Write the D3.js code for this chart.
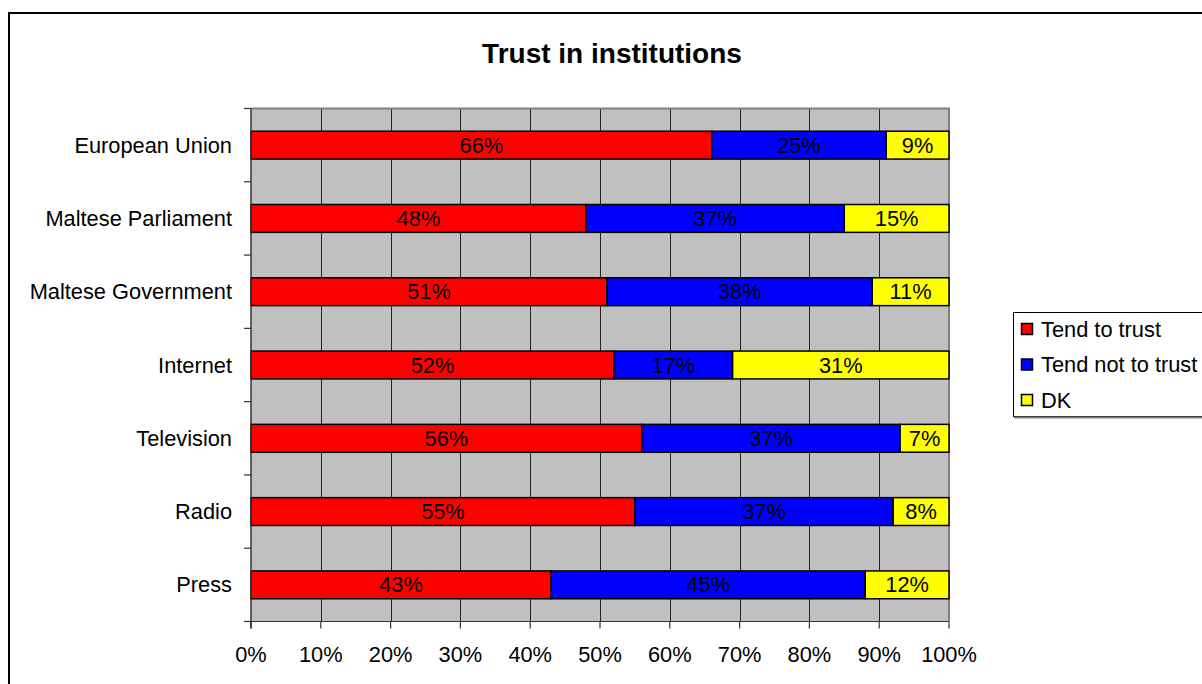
<!DOCTYPE html>
<html>
<head>
<meta charset="utf-8">
<script src="https://cdn.jsdelivr.net/npm/d3@7"></script>
<style>
  html, body { margin: 0; padding: 0; background: #fff; }
  svg { display: block; font-family: "Liberation Sans", Arial, sans-serif; }
</style>
</head>
<body>
<svg id="chart" width="1202" height="684"></svg>
<script>
const categories = ["European Union", "Maltese Parliament", "Maltese Government", "Internet", "Television", "Radio", "Press"];
const seriesNames = ["Tend to trust", "Tend not to trust", "DK"];
const tendToTrust = [66, 48, 51, 52, 56, 55, 43];
const tendNotToTrust = [25, 37, 38, 17, 37, 37, 45];
const dk = [9, 15, 11, 31, 7, 8, 12];
const xTicks = [0, 10, 20, 30, 40, 50, 60, 70, 80, 90, 100];
const colors = ["#FF0000", "#0000FF", "#FFFF00"];

const rows = categories.map((c, i) => ({
  cat: c, "Tend to trust": tendToTrust[i], "Tend not to trust": tendNotToTrust[i], "DK": dk[i]
}));
const stacked = d3.stack().keys(seriesNames)(rows);

const svg = d3.select("#chart");
const W = 1202, H = 684;
const plot = { left: 251, right: 949, top: 108.5, bottom: 621.5 };
const FS = 21.8;

// outer frame
svg.append("rect").attr("x", 9).attr("y", 13).attr("width", W + 20).attr("height", H + 20)
  .attr("fill", "#fff").attr("stroke", "#000").attr("stroke-width", 2);

// title
svg.append("text").attr("x", 612).attr("y", 63).attr("text-anchor", "middle")
  .attr("font-size", 28).attr("font-weight", "bold").attr("fill", "#000")
  .text("Trust in institutions");

const x = d3.scaleLinear().domain([0, 100]).range([plot.left, plot.right]);
const y = d3.scaleBand().domain(categories).range([plot.top, plot.bottom])
  .paddingInner(0.62).paddingOuter(0.31);

// plot background
svg.append("rect").attr("x", plot.left).attr("y", plot.top)
  .attr("width", plot.right - plot.left).attr("height", plot.bottom - plot.top)
  .attr("fill", "#C0C0C0");

// vertical gridlines
svg.append("g").selectAll("line").data(xTicks.slice(1, -1)).join("line")
  .attr("x1", d => Math.round(x(d)) + 0.5).attr("x2", d => Math.round(x(d)) + 0.5)
  .attr("y1", plot.top).attr("y2", plot.bottom)
  .attr("stroke", "#222").attr("stroke-width", 1);

// plot border top & right (gray)
svg.append("path")
  .attr("d", `M${plot.left},${plot.top} H${plot.right} V${plot.bottom}`)
  .attr("fill", "none").attr("stroke", "#808080").attr("stroke-width", 2);

// bars
const g = svg.append("g");
stacked.forEach((s, si) => {
  g.append("g").selectAll("rect").data(s).join("rect")
    .attr("x", d => x(d[0])).attr("width", d => x(d[1]) - x(d[0]))
    .attr("y", d => y(d.data.cat)).attr("height", y.bandwidth())
    .attr("fill", colors[si]).attr("stroke", "#000").attr("stroke-width", 1.5);
});
stacked.forEach((s) => {
  g.append("g").selectAll("text").data(s).join("text")
    .attr("x", d => (x(d[0]) + x(d[1])) / 2)
    .attr("y", d => y(d.data.cat) + y.bandwidth() / 2 + 7.5)
    .attr("text-anchor", "middle").attr("font-size", FS).attr("fill", "#000")
    .text(d => (d[1] - d[0]) + "%");
});

// y axis
const yAxisG = svg.append("g");
yAxisG.append("line").attr("x1", plot.left).attr("x2", plot.left)
  .attr("y1", plot.top).attr("y2", plot.bottom + 7).attr("stroke", "#333").attr("stroke-width", 1.5);
const step = y.step();
const boundaries = d3.range(categories.length + 1).map(i => plot.top + i * step);
yAxisG.selectAll("line.t").data(boundaries).join("line").attr("class", "t")
  .attr("x1", plot.left - 7).attr("x2", plot.left)
  .attr("y1", d => d).attr("y2", d => d).attr("stroke", "#333").attr("stroke-width", 1.2);
yAxisG.selectAll("text").data(categories).join("text")
  .attr("x", 232).attr("y", d => y(d) + y.bandwidth() / 2 + 7.5)
  .attr("text-anchor", "end").attr("font-size", FS).attr("fill", "#000")
  .text(d => d);

// x axis
const xAxisG = svg.append("g");
xAxisG.append("line").attr("x1", plot.left - 7).attr("x2", plot.right)
  .attr("y1", plot.bottom).attr("y2", plot.bottom).attr("stroke", "#333").attr("stroke-width", 1.2);
xAxisG.selectAll("line.t").data(xTicks).join("line").attr("class", "t")
  .attr("x1", d => x(d)).attr("x2", d => x(d))
  .attr("y1", plot.bottom).attr("y2", plot.bottom + 7)
  .attr("stroke", "#333").attr("stroke-width", 1.2);
xAxisG.selectAll("text").data(xTicks).join("text")
  .attr("x", d => x(d)).attr("y", 662)
  .attr("text-anchor", "middle").attr("font-size", FS).attr("fill", "#000")
  .text(d => d + "%");

// legend
const lg = svg.append("g");
lg.append("rect").attr("x", 1013.5).attr("y", 312.5).attr("width", 220).attr("height", 104)
  .attr("fill", "#fff").attr("stroke", "#000").attr("stroke-width", 1);
lg.append("line").attr("x1", 1014).attr("x2", 1202).attr("y1", 417.5).attr("y2", 417.5)
  .attr("stroke", "#808080").attr("stroke-width", 2);
const legendY = d3.scalePoint().domain(seriesNames).range([329, 400]);
seriesNames.forEach((n, i) => {
  lg.append("rect").attr("x", 1021.5).attr("y", legendY(n) - 5.5).attr("width", 11).attr("height", 11)
    .attr("fill", colors[i]).attr("stroke", "#000").attr("stroke-width", 1.5);
  lg.append("text").attr("x", 1041).attr("y", legendY(n) + 7.5)
    .attr("font-size", FS).attr("fill", "#000").text(n);
});
</script>
</body>
</html>
